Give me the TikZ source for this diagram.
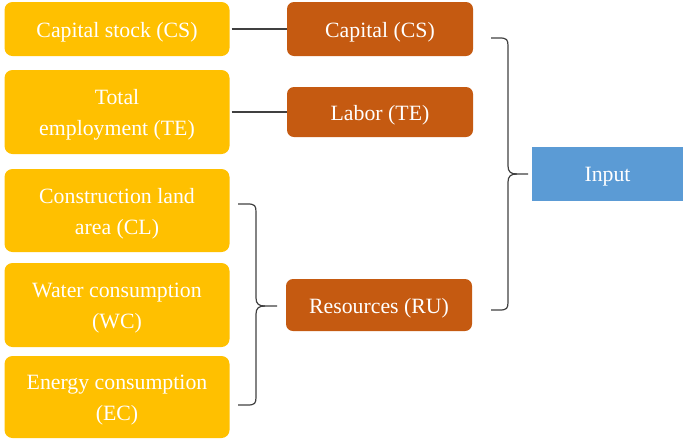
\documentclass[tikz,border=0pt]{standalone}
\usepackage{fontspec}
\setmainfont{Liberation Serif}
\begin{document}
\begin{tikzpicture}[x=1pt,y=-1pt,
  txt/.style={text=white, align=center, inner sep=0pt, yshift=-3pt, font=\fontsize{21.8}{31}\selectfont},
  ybox/.style={fill=yel, rounded corners=8pt, minimum width=225pt, inner sep=0pt},
  obox/.style={fill=org, rounded corners=7pt, minimum width=186pt, inner sep=0pt},
  bbox/.style={fill=blu, minimum width=151pt, minimum height=54pt, inner sep=0pt},
  conn/.style={draw=lin, line width=1.2pt},
]
\definecolor{yel}{HTML}{FFC000}
\definecolor{org}{HTML}{C55A11}
\definecolor{blu}{HTML}{5B9BD5}
\definecolor{lin}{HTML}{404040}
\useasboundingbox (0,0) rectangle (685,440);

\node[ybox, minimum height=54pt, label={[txt]center:Capital stock (CS)}] (cs) at (117,29) {};
\node[ybox, minimum height=84pt, label={[txt]center:Total\\employment (TE)}] (te) at (117,112) {};
\node[ybox, minimum height=83pt, label={[txt]center:Construction land\\area (CL)}] (cl) at (117,210.5) {};
\node[ybox, minimum height=84pt, label={[txt]center:Water consumption\\(WC)}] (wc) at (117,305) {};
\node[ybox, minimum height=82pt, label={[txt]center:Energy consumption\\(EC)}] (ec) at (117,397) {};

\node[obox, minimum height=54pt, label={[txt]center:Capital (CS)}] (cap) at (380,29) {};
\node[obox, minimum height=50pt, label={[txt]center:Labor (TE)}] (lab) at (380,112) {};
\node[obox, minimum height=52pt, label={[txt]center:Resources (RU)}] (res) at (379,305) {};

\node[bbox, label={[txt]center:Input}] (inp) at (607.5,174) {};

\draw[conn] (cs.east) ++(2,0) -- (cap.west);
\draw[conn] (te.east) ++(2,0) -- (lab.west);

% brace for resources
\coordinate (rt) at (238,204);
\coordinate (rb) at (238,405);
\coordinate (rm) at (277,306);
\draw[conn]
  (rt) -- (248,204) .. controls (255,204) and (256,206) .. (256,212)
  -- (256,298) .. controls (256,304) and (259,306) .. (265,306) -- (rm);
\draw[conn]
  (rb) -- (248,405) .. controls (255,405) and (256,403) .. (256,397)
  -- (256,314) .. controls (256,308) and (259,306) .. (265,306);

% brace for input
\coordinate (it) at (491,38);
\coordinate (ib) at (491,310);
\coordinate (im) at (528,174);
\draw[conn]
  (it) -- (500,38) .. controls (507,38) and (508,40) .. (508,46)
  -- (508,166) .. controls (508,172) and (511,174) .. (517,174) -- (im);
\draw[conn]
  (ib) -- (500,310) .. controls (507,310) and (508,308) .. (508,302)
  -- (508,182) .. controls (508,176) and (511,174) .. (517,174);
\end{tikzpicture}
\end{document}
